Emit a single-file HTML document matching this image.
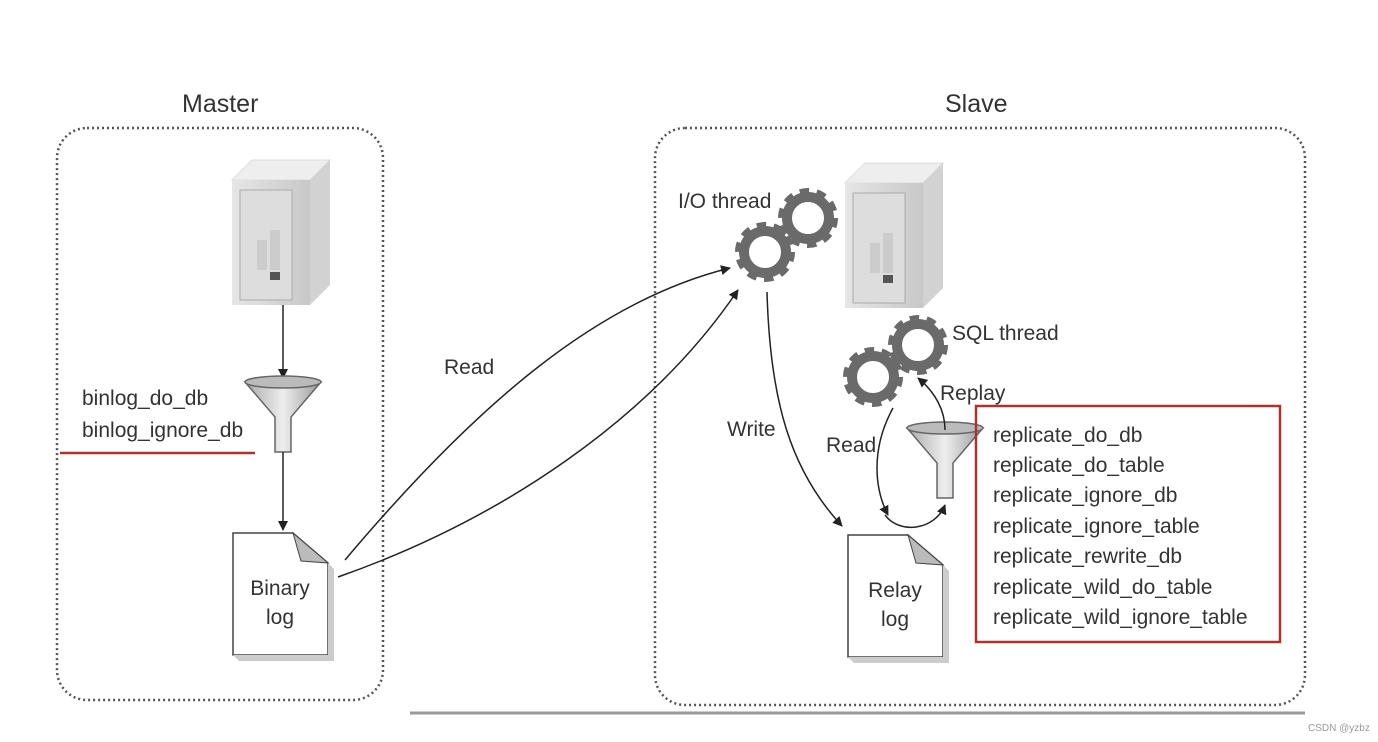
<!DOCTYPE html>
<html><head><meta charset="utf-8"><style>
html,body{margin:0;padding:0;background:#fff;}
svg{display:block;}
text{font-family:"Liberation Sans",sans-serif;fill:#333;}
</style></head><body>
<svg width="1378" height="742" viewBox="0 0 1378 742" xmlns="http://www.w3.org/2000/svg">
<defs>
<marker id="ah" markerWidth="10" markerHeight="10" refX="9" refY="5" orient="auto" markerUnits="userSpaceOnUse" viewBox="0 0 10 10">
<path d="M0,0 L10,5 L0,10 z" fill="#222"/></marker>
<linearGradient id="sv" x1="0" x2="1"><stop offset="0" stop-color="#e6e6e6"/><stop offset="1" stop-color="#c8c8c8"/></linearGradient>
<linearGradient id="fn" x1="0" x2="1"><stop offset="0" stop-color="#aaa"/><stop offset="0.5" stop-color="#eee"/><stop offset="1" stop-color="#999"/></linearGradient>
<g id="server">
<path d="M0,20 L20,0 L98,0 L78,20 z" fill="#eee" stroke="#ddd"/>
<rect x="0" y="20" width="78" height="125" fill="url(#sv)"/>
<path d="M78,20 L98,0 L98,125 L78,145 z" fill="#d2d2d2"/>
<rect x="8" y="30" width="52" height="110" fill="#ddd" stroke="#aaa"/>
<rect x="25" y="80" width="10" height="30" fill="#ccc"/><rect x="38" y="70" width="10" height="40" fill="#ccc"/>
<rect x="38" y="112" width="10" height="8" fill="#555"/>
</g>
<g id="funnel">
<path d="M-38,0 L38,0 L8,35 L8,70 L-8,70 L-8,35 z" fill="url(#fn)" stroke="#666" stroke-width="1.5"/>
<ellipse cx="0" cy="0" rx="38" ry="6" fill="#bbb" stroke="#666" stroke-width="1.5"/>
</g>
<g id="gear">
<circle r="21" fill="none" stroke="#6a6a6a" stroke-width="10"/>
<circle r="26" fill="none" stroke="#6a6a6a" stroke-width="8" stroke-dasharray="9 7.34"/>
</g>
<g id="doc">
<path d="M0,0 L60,0 L95,30 L95,122 L0,122 z" fill="#fff" stroke="#444" stroke-width="1.5"/>
<path d="M60,0 L68,28 L95,30 z" fill="#bbb" stroke="#444" stroke-width="1"/>
<path d="M95,30 L101,36 L101,128 L6,128 L0,122 L95,122z" fill="#ccc"/>
</g>
</defs>

<rect x="57" y="128" width="326" height="572" rx="30" fill="none" stroke="#555" stroke-width="2.5" stroke-dasharray="2 3"/>
<rect x="655" y="128" width="650" height="577" rx="30" fill="none" stroke="#555" stroke-width="2.5" stroke-dasharray="2 3"/>
<line x1="410" y1="713" x2="1305" y2="713" stroke="#999" stroke-width="3"/>

<text x="182" y="112" font-size="25">Master</text>
<text x="945" y="112" font-size="25">Slave</text>

<use href="#server" x="232" y="160"/>
<use href="#server" x="845" y="163"/>

<line x1="283" y1="305" x2="283" y2="378" stroke="#222" stroke-width="1.5" marker-end="url(#ah)"/>
<use href="#funnel" x="283" y="382"/>
<line x1="283" y1="452" x2="283" y2="530" stroke="#222" stroke-width="1.5" marker-end="url(#ah)"/>

<text x="82" y="405" font-size="21">binlog_do_db</text>
<text x="82" y="437" font-size="21">binlog_ignore_db</text>
<line x1="60" y1="453" x2="255" y2="453" stroke="#b03030" stroke-width="2.5"/>

<use href="#doc" x="233" y="533"/>
<text x="280" y="595" font-size="21" text-anchor="middle">Binary</text>
<text x="280" y="624" font-size="21" text-anchor="middle">log</text>

<use href="#gear" x="765" y="252"/>
<use href="#gear" x="808" y="218"/>
<text x="678" y="208" font-size="21">I/O thread</text>

<use href="#gear" x="873" y="377"/>
<use href="#gear" x="918" y="345"/>
<text x="952" y="340" font-size="21">SQL thread</text>

<path d="M345,560 C480,400 600,300 730,268" fill="none" stroke="#222" stroke-width="1.5" marker-end="url(#ah)"/>
<path d="M338,577 C500,520 650,420 738,290" fill="none" stroke="#222" stroke-width="1.5" marker-end="url(#ah)"/>
<text x="444" y="374" font-size="21">Read</text>

<path d="M767,292 C770,400 790,470 842,526" fill="none" stroke="#222" stroke-width="1.5" marker-end="url(#ah)"/>
<text x="727" y="436" font-size="21">Write</text>

<use href="#doc" x="848" y="535"/>
<text x="895" y="597" font-size="21" text-anchor="middle">Relay</text>
<text x="895" y="626" font-size="21" text-anchor="middle">log</text>

<use href="#funnel" x="945" y="428"/>
<path d="M893,408 C870,450 875,490 888,515" fill="none" stroke="#222" stroke-width="1.5" marker-end="url(#ah)"/>
<path d="M885,515 C900,535 935,530 945,505" fill="none" stroke="#222" stroke-width="1.5" marker-end="url(#ah)"/>
<text x="826" y="452" font-size="21">Read</text>
<path d="M945,430 C945,410 935,392 918,378" fill="none" stroke="#222" stroke-width="1.5" marker-end="url(#ah)"/>
<text x="940" y="400" font-size="21">Replay</text>

<rect x="976" y="406" width="304" height="236" fill="none" stroke="#b03030" stroke-width="2.5"/>
<g font-size="21">
<text x="993" y="442">replicate_do_db</text>
<text x="993" y="472">replicate_do_table</text>
<text x="993" y="502">replicate_ignore_db</text>
<text x="993" y="533">replicate_ignore_table</text>
<text x="993" y="563">replicate_rewrite_db</text>
<text x="993" y="594">replicate_wild_do_table</text>
<text x="993" y="624">replicate_wild_ignore_table</text>
</g>
<text x="1308" y="731" font-size="10" style="fill:#999">CSDN @yzbz</text>
</svg>
</body></html>
